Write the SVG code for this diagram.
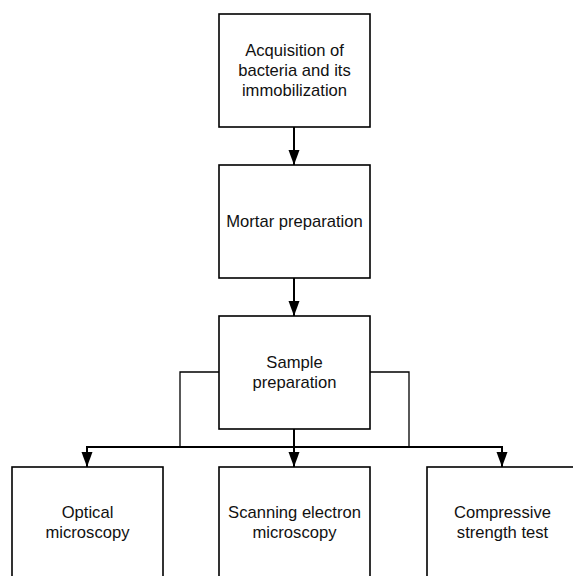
<svg xmlns="http://www.w3.org/2000/svg" width="573" height="576" viewBox="0 0 573 576">
<style>
.box{fill:#fff;stroke:#000;stroke-width:1.6}
.t{font-family:"Liberation Sans",Arial,sans-serif;font-size:16.6px;fill:#111;text-anchor:middle}
.c{fill:none;stroke:#000;stroke-width:2}
.s{fill:none;stroke:#000;stroke-width:1.3}
</style>
<defs>
<marker id="ah" markerUnits="userSpaceOnUse" markerWidth="16" markerHeight="14" viewBox="0 -7 16 14" refX="15" refY="0" orient="auto">
<path d="M0,-5.5 L15,0 L0,5.5 Z" fill="#000"/>
</marker>
</defs>
<rect width="573" height="576" fill="#fff"/>
<g id="connectors">
<line class="c" x1="294" y1="127" x2="294" y2="165" marker-end="url(#ah)"/>
<line class="c" x1="294" y1="278" x2="294" y2="316" marker-end="url(#ah)"/>
<line class="c" x1="294" y1="429" x2="294" y2="467" marker-end="url(#ah)"/>
<polyline class="s" points="219,372 180,372 180,447"/>
<polyline class="s" points="370,372 409,372 409,447"/>
<line class="c" x1="86" y1="447" x2="503" y2="447"/>
<line class="c" x1="87" y1="447" x2="87" y2="467" marker-end="url(#ah)"/>
<line class="c" x1="502" y1="447" x2="502" y2="467" marker-end="url(#ah)"/>
</g>
<g id="n1">
<rect class="box" x="219" y="14" width="151" height="113"/>
<text class="t" x="294.5" y="56">Acquisition of</text>
<text class="t" x="294.5" y="76">bacteria and its</text>
<text class="t" x="294.5" y="96">immobilization</text>
</g>
<g id="n2">
<rect class="box" x="219" y="165" width="151" height="113"/>
<text class="t" x="294.5" y="227">Mortar preparation</text>
</g>
<g id="n3">
<rect class="box" x="219" y="316" width="151" height="113"/>
<text class="t" x="294.5" y="368">Sample</text>
<text class="t" x="294.5" y="388">preparation</text>
</g>
<g id="n4">
<rect class="box" x="12" y="467" width="151" height="113"/>
<text class="t" x="87.5" y="518">Optical</text>
<text class="t" x="87.5" y="538">microscopy</text>
</g>
<g id="n5">
<rect class="box" x="219" y="467" width="151" height="113"/>
<text class="t" x="294.5" y="518">Scanning electron</text>
<text class="t" x="294.5" y="538">microscopy</text>
</g>
<g id="n6">
<rect class="box" x="427" y="467" width="151" height="113"/>
<text class="t" x="502.5" y="518">Compressive</text>
<text class="t" x="502.5" y="538">strength test</text>
</g>
</svg>
